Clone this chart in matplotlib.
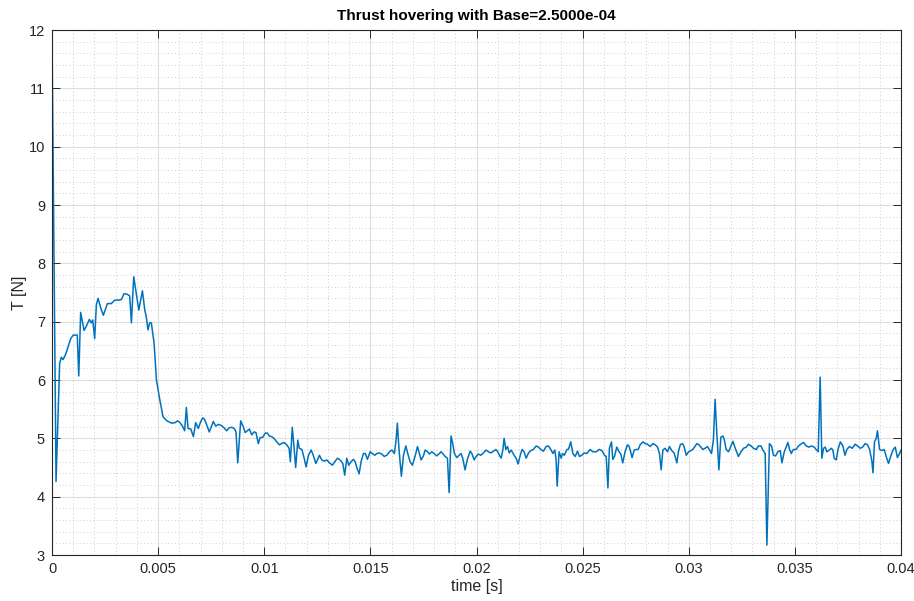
import matplotlib
matplotlib.use("Agg")
import matplotlib.pyplot as plt
import numpy as np
from matplotlib.ticker import MultipleLocator

# thrust while hovering, time in milliseconds
time_ms = [
    0.0, 0.19, 0.36, 0.44, 0.52, 0.63, 0.75, 0.88, 1.00, 1.19, 1.26, 1.35, 1.51, 1.64,
    1.76, 1.85, 1.92, 2.01, 2.09, 2.17, 2.30, 2.42, 2.61, 2.79, 2.96, 3.14, 3.27, 3.39,
    3.55, 3.66, 3.74, 3.85, 3.97, 4.09, 4.26, 4.37, 4.44, 4.52, 4.60, 4.68, 4.81, 4.92,
    5.08, 5.23, 5.41, 5.64, 5.80, 5.91, 6.03, 6.16, 6.25, 6.33, 6.41, 6.54, 6.66, 6.77,
    6.89, 7.01, 7.10, 7.18, 7.29, 7.41, 7.60, 7.71, 7.84, 7.98, 8.11, 8.23, 8.34, 8.47,
    8.58, 8.67, 8.75, 8.89, 9.02, 9.10, 9.20, 9.30, 9.41, 9.52, 9.61, 9.72, 9.80, 9.93,
    10.05, 10.15, 10.24, 10.35, 10.46, 10.59, 10.71, 10.82, 10.93, 11.06, 11.17, 11.23,
    11.32, 11.40, 11.48, 11.58, 11.65, 11.77, 11.88, 11.97, 12.08, 12.21, 12.31, 12.43,
    12.60, 12.71, 12.83, 12.95, 13.07, 13.21, 13.32, 13.45, 13.57, 13.70, 13.79, 13.89,
    13.98, 14.09, 14.20, 14.28, 14.37, 14.47, 14.56, 14.67, 14.76, 14.86, 14.99, 15.09,
    15.21, 15.30, 15.42, 15.54, 15.65, 15.77, 15.90, 16.01, 16.13, 16.21, 16.27, 16.35,
    16.46, 16.56, 16.67, 16.76, 16.87, 16.98, 17.11, 17.22, 17.31, 17.39, 17.50, 17.58,
    17.69, 17.78, 17.89, 18.00, 18.13, 18.25, 18.33, 18.41, 18.52, 18.63, 18.71, 18.80,
    18.88, 18.96, 19.07, 19.18, 19.27, 19.35, 19.46, 19.57, 19.70, 19.78, 19.89, 19.98,
    20.09, 20.20, 20.33, 20.44, 20.56, 20.67, 20.80, 20.91, 21.00, 21.08, 21.16, 21.24,
    21.30, 21.38, 21.46, 21.54, 21.63, 21.71, 21.79, 21.87, 21.96, 22.06, 22.15, 22.24,
    22.34, 22.45, 22.56, 22.68, 22.81, 22.92, 23.03, 23.15, 23.28, 23.39, 23.50, 23.60,
    23.69, 23.75, 23.80, 23.89, 23.99, 24.05, 24.14, 24.26, 24.33, 24.44, 24.54, 24.65,
    24.76, 24.85, 24.96, 25.07, 25.20, 25.35, 25.48, 25.64, 25.78, 25.91, 26.03, 26.11,
    26.19, 26.26, 26.36, 26.42, 26.50, 26.61, 26.72, 26.80, 26.89, 27.00, 27.11, 27.18,
    27.24, 27.33, 27.43, 27.52, 27.62, 27.71, 27.84, 27.95, 28.05, 28.18, 28.31, 28.42,
    28.53, 28.62, 28.70, 28.78, 28.89, 29.00, 29.09, 29.20, 29.31, 29.44, 29.51, 29.60,
    29.70, 29.78, 29.88, 29.99, 30.10, 30.19, 30.29, 30.38, 30.48, 30.57, 30.66, 30.77,
    30.88, 30.98, 31.07, 31.16, 31.24, 31.32, 31.42, 31.51, 31.61, 31.68, 31.76, 31.87,
    31.98, 32.08, 32.19, 32.34, 32.46, 32.58, 32.71, 32.81, 32.94, 33.05, 33.18, 33.28,
    33.40, 33.49, 33.60, 33.68, 33.80, 33.90, 33.99, 34.09, 34.20, 34.31, 34.39, 34.50,
    34.59, 34.67, 34.75, 34.83, 34.93, 35.06, 35.17, 35.28, 35.41, 35.53, 35.66, 35.78,
    35.91, 36.00, 36.10, 36.19, 36.27, 36.35, 36.43, 36.51, 36.62, 36.71, 36.79, 36.85,
    36.95, 37.03, 37.14, 37.26, 37.36, 37.45, 37.57, 37.70, 37.84, 37.95, 38.08, 38.19,
    38.31, 38.42, 38.52, 38.63, 38.68, 38.75, 38.83, 38.89, 38.99, 39.10, 39.21, 39.30,
    39.41, 39.52, 39.62, 39.73, 39.83, 39.93, 40.00,
]

thrust_N = [
    11.90, 4.26, 6.29, 6.39, 6.35, 6.43, 6.56, 6.71, 6.77, 6.77, 6.07, 7.16, 6.85, 6.94,
    7.04, 6.98, 7.03, 6.71, 7.29, 7.40, 7.23, 7.11, 7.31, 7.31, 7.37, 7.37, 7.38, 7.48,
    7.47, 7.44, 6.98, 7.77, 7.48, 7.20, 7.53, 7.20, 7.09, 6.86, 6.98, 6.98, 6.63, 6.00,
    5.66, 5.37, 5.30, 5.26, 5.27, 5.30, 5.27, 5.20, 5.13, 5.53, 5.17, 5.16, 5.03, 5.27,
    5.17, 5.29, 5.35, 5.33, 5.23, 5.11, 5.29, 5.21, 5.24, 5.22, 5.18, 5.13, 5.18, 5.19,
    5.17, 5.11, 4.58, 5.30, 5.19, 5.10, 5.13, 5.16, 5.06, 5.11, 5.10, 4.91, 5.01, 5.02,
    5.09, 5.09, 5.04, 5.03, 5.00, 4.94, 4.89, 4.91, 4.93, 4.89, 4.83, 4.60,
    5.19, 4.86, 4.50, 4.97, 4.83, 4.81, 4.66, 4.51, 4.71, 4.80, 4.71, 4.57,
    4.71, 4.63, 4.61, 4.63, 4.58, 4.54, 4.60, 4.66, 4.63, 4.57, 4.37, 4.66,
    4.54, 4.60, 4.64, 4.60, 4.49, 4.39, 4.60, 4.74, 4.74, 4.64, 4.77, 4.74,
    4.71, 4.74, 4.75, 4.73, 4.69, 4.71, 4.77, 4.80, 4.74, 4.97, 5.26, 4.80,
    4.35, 4.71, 4.87, 4.74, 4.60, 4.54, 4.70, 4.86, 4.74, 4.63, 4.70, 4.80,
    4.77, 4.73, 4.77, 4.74, 4.70, 4.74, 4.77, 4.74, 4.69, 4.66, 4.07, 5.04,
    4.91, 4.74, 4.67, 4.71, 4.74, 4.66, 4.46, 4.64, 4.78, 4.74, 4.63, 4.69,
    4.73, 4.71, 4.75, 4.80, 4.77, 4.75, 4.78, 4.81, 4.77, 4.71, 4.66, 4.80,
    5.00, 4.81, 4.86, 4.75, 4.80, 4.75, 4.70, 4.66, 4.56, 4.71, 4.81, 4.77,
    4.66, 4.75, 4.79, 4.81, 4.87, 4.85, 4.81, 4.78, 4.86, 4.87, 4.81, 4.74,
    4.80, 4.63, 4.18, 4.77, 4.66, 4.74, 4.71, 4.81, 4.81, 4.94, 4.74, 4.69,
    4.78, 4.69, 4.71, 4.75, 4.74, 4.81, 4.77, 4.77, 4.81, 4.79, 4.71, 4.69,
    4.15, 4.83, 4.94, 4.64, 4.69, 4.85, 4.77, 4.73, 4.58, 4.77, 4.89, 4.87,
    4.80, 4.67, 4.80, 4.81, 4.81, 4.89, 4.94, 4.91, 4.90, 4.86, 4.91, 4.89,
    4.85, 4.74, 4.46, 4.80, 4.83, 4.77, 4.86, 4.79, 4.75, 4.58, 4.77, 4.89,
    4.91, 4.86, 4.71, 4.77, 4.79, 4.81, 4.86, 4.91, 4.89, 4.85, 4.81, 4.83,
    4.86, 4.80, 4.74, 4.97, 5.67, 5.10, 4.46, 5.02, 5.04, 4.97, 4.81, 4.77,
    4.86, 4.95, 4.83, 4.69, 4.77, 4.83, 4.85, 4.90, 4.87, 4.83, 4.81, 4.87,
    4.87, 4.80, 4.74, 3.17, 4.91, 4.87, 4.71, 4.70, 4.77, 4.79, 4.58, 4.77,
    4.85, 4.93, 4.81, 4.74, 4.81, 4.81, 4.87, 4.90, 4.93, 4.87, 4.85, 4.87,
    4.85, 4.81, 4.77, 6.05, 4.66, 4.83, 4.85, 4.77, 4.80, 4.83, 4.80, 4.66,
    4.63, 4.81, 4.94, 4.87, 4.71, 4.81, 4.86, 4.83, 4.90, 4.87, 4.83, 4.85,
    4.91, 4.89, 4.81, 4.60, 4.41, 4.94, 5.00, 5.13, 4.81, 4.79, 4.81, 4.69,
    4.57, 4.70, 4.80, 4.85, 4.67, 4.74, 4.80,
]

xticks = [0, 0.005, 0.01, 0.015, 0.02, 0.025, 0.03, 0.035, 0.04]
xtick_labels = ["0", "0.005", "0.01", "0.015", "0.02", "0.025", "0.03", "0.035", "0.04"]
yticks = [3, 4, 5, 6, 7, 8, 9, 10, 11, 12]

base = 2.5e-4

plt.rcParams["font.family"] = ["Liberation Sans", "DejaVu Sans"]
ink = "#262626"

fig = plt.figure(figsize=(9.14, 6.01), dpi=100)
ax = fig.add_axes([0.0569, 0.0765, 0.9289, 0.8735])

t = np.array(time_ms) * 1e-3
ax.plot(t, thrust_N, color="#0072BD", linewidth=1.1)

ax.set_xlim(0, 0.04)
ax.set_ylim(3, 12)
ax.set_xticks(xticks)
ax.set_xticklabels(xtick_labels)
ax.set_yticks(yticks)
ax.xaxis.set_minor_locator(MultipleLocator(0.001))
ax.yaxis.set_minor_locator(MultipleLocator(0.2))

ax.grid(True, which="major", color="#dedede", linewidth=0.8, linestyle="-")
ax.grid(True, which="minor", color="#cfcfcf", linewidth=0.7, linestyle=(0, (1, 2.5)))
ax.set_axisbelow(True)

ax.tick_params(which="major", direction="in", length=6, width=0.7,
               top=True, right=True, colors=ink, labelsize=10.5, pad=5)
ax.tick_params(which="minor", length=0)
for s in ax.spines.values():
    s.set_color(ink)
    s.set_linewidth(0.8)

ax.set_title(f"Thrust hovering with Base={base:.4e}", fontsize=11,
             fontweight="bold", color="black", pad=7)
ax.set_xlabel("time [s]", fontsize=11.5, color=ink, labelpad=2)
ax.set_ylabel("T [N]", fontsize=11.5, color=ink, labelpad=1)

fig.savefig("out.png", dpi=100)
